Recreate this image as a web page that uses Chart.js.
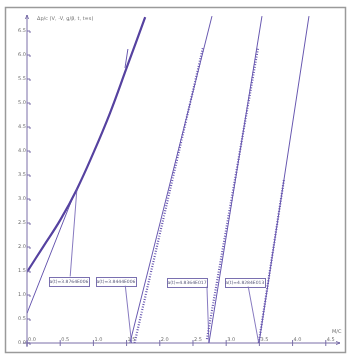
<!DOCTYPE html>
<html>
<head>
<meta charset="utf-8">
<script src="https://cdn.jsdelivr.net/npm/chart.js@4"></script>
<style>
  body { margin: 0; background: #fff; }
  #wrap { width: 351px; height: 355px; position: relative; }
</style>
</head>
<body>
<div id="wrap"><canvas id="chart"></canvas></div>
<script>
// axis ticks
const xTicks = [0, 0.5, 1.0, 1.5, 2.0, 2.5, 3.0, 3.5, 4.0, 4.5];
const yTicks = [0, 0.5, 1.0, 1.5, 2.0, 2.5, 3.0, 3.5, 4.0, 4.5, 5.0, 5.5, 6.0, 6.5];

// first (curved) series and its tangents
const curveX = [0, 0.25, 0.5, 0.75, 1.0, 1.25, 1.5, 1.78];
const curveY = [1.48, 2.02, 2.56, 3.2, 3.96, 4.79, 5.73, 6.79];
const tangentX = [0, 0.68];
const tangentY = [0.62, 3.0];
const tangent2X = [1.476, 1.52];
const tangent2Y = [5.73, 6.125];

// straight series: fitted line + measured points
const line2X = [1.55, 2.786];
const line2Y = [0, 6.81];
const pts2X = [1.62, 2.65];
const pts2Y = [0, 6.15];
const line3X = [2.74, 3.539];
const line3Y = [0, 6.81];
const pts3X = [2.71, 3.48];
const pts3Y = [0.08, 6.15];
const line4X = [3.494, 4.247];
const line4Y = [0, 6.81];
const pts4X = [3.49, 3.87];
const pts4Y = [0, 3.4];

// boxed labels and leader lines
const labelText = ['a(t)=3.8764E006', 'a(t)=3.8444E006', 'a(t)=4.8364E017', 'a(t)=4.8284E013'];
const labelX = [0.632, 1.34, 2.41, 3.28];
const labelY = [1.29, 1.29, 1.27, 1.27];
const leaderFromX = [0.65, 1.48, 2.71, 3.33];
const leaderFromY = [1.38, 1.2, 1.19, 1.19];
const leaderToX = [0.753, 1.575, 2.74, 3.49];
const leaderToY = [3.23, 0, 0, 0];

const titleText = 'Δp/c (V, -V, g/β, t, t=s)';
const xName = 'M/C';

const purple = 'rgb(104, 88, 176)';
const dark = 'rgb(86, 66, 160)';

function zip(xs, ys) { return xs.map((x, i) => ({ x: x, y: ys[i] })); }

function lineSet(xs, ys, width, color, dash, tension) {
  return {
    data: zip(xs, ys), showLine: true, borderColor: color, borderWidth: width,
    borderDash: dash || [], pointRadius: 0, fill: false, tension: tension || 0
  };
}

const axesPlugin = {
  id: 'axes',
  afterDatasetsDraw(chart) {
    const ctx = chart.ctx;
    const xs = chart.scales.x, ys = chart.scales.y;
    const x0 = xs.getPixelForValue(0), y0 = ys.getPixelForValue(0);
    ctx.save();
    // frame
    ctx.strokeStyle = '#9a9a9a';
    ctx.lineWidth = 1.5;
    ctx.strokeRect(5.5, 7.5, 340, 345);
    // axes
    ctx.strokeStyle = '#7a6fa8';
    ctx.lineWidth = 1;
    ctx.beginPath();
    ctx.moveTo(x0, y0 + 4); ctx.lineTo(x0, 15);
    ctx.moveTo(x0 - 4, y0); ctx.lineTo(340, y0);
    // arrow tips
    ctx.moveTo(x0 - 1.5, 19); ctx.lineTo(x0, 15); ctx.lineTo(x0 + 1.5, 19);
    ctx.moveTo(336, y0 - 1.5); ctx.lineTo(340, y0); ctx.lineTo(336, y0 + 1.5);
    ctx.stroke();
    ctx.font = '5px "DejaVu Sans"';
    ctx.fillStyle = '#6f6f6f';
    // ticks
    ctx.beginPath();
    yTicks.forEach(v => {
      const p = ys.getPixelForValue(v);
      ctx.moveTo(x0, p); ctx.lineTo(x0 + 3, p);
      ctx.moveTo(x0 + 3, p); ctx.lineTo(x0 + 3, p + 2);
    });
    xTicks.forEach(v => {
      const p = xs.getPixelForValue(v);
      ctx.moveTo(p, y0 - 3); ctx.lineTo(p, y0 + 3);
    });
    ctx.stroke();
    ctx.textBaseline = 'middle';
    ctx.textAlign = 'right';
    yTicks.forEach(v => ctx.fillText(v.toFixed(1), x0 - 1, ys.getPixelForValue(v)));
    ctx.textAlign = 'left';
    ctx.textBaseline = 'bottom';
    xTicks.forEach(v => ctx.fillText(v.toFixed(1), xs.getPixelForValue(v) + 1, y0 - 1));
    ctx.fillText(xName, 332, y0 - 9);
    ctx.textBaseline = 'middle';
    ctx.fillText(titleText, x0 + 10, 19);
    // leaders
    ctx.strokeStyle = purple;
    ctx.lineWidth = 0.8;
    ctx.beginPath();
    leaderFromX.forEach((v, i) => {
      ctx.moveTo(xs.getPixelForValue(v), ys.getPixelForValue(leaderFromY[i]));
      ctx.lineTo(xs.getPixelForValue(leaderToX[i]), ys.getPixelForValue(leaderToY[i]));
    });
    ctx.stroke();
    // boxed labels
    ctx.textAlign = 'center';
    labelText.forEach((t, i) => {
      const cx = xs.getPixelForValue(labelX[i]), cy = ys.getPixelForValue(labelY[i]);
      const w = 40, h = 9;
      ctx.fillStyle = '#fff';
      ctx.fillRect(cx - w / 2, cy - h / 2, w, h);
      ctx.strokeStyle = '#7a70b0';
      ctx.lineWidth = 1;
      ctx.strokeRect(Math.round(cx - w / 2) + 0.5, Math.round(cy - h / 2) + 0.5, w, h);
      ctx.fillStyle = '#5a5a7a';
      ctx.font = '4.5px "DejaVu Sans"';
      ctx.fillText(t, cx, cy + 0.5);
    });
    ctx.restore();
  }
};

new Chart(document.getElementById('chart'), {
  type: 'scatter',
  data: {
    datasets: [
      lineSet(curveX, curveY, 2.2, dark, null, 0.4),
      lineSet(tangentX, tangentY, 1, purple),
      lineSet(tangent2X, tangent2Y, 1, purple),
      lineSet(line2X, line2Y, 1, purple),
      lineSet(pts2X, pts2Y, 2.2, purple, [1, 1.6]),
      lineSet(line3X, line3Y, 1, purple),
      lineSet(pts3X, pts3Y, 2.2, purple, [1, 1.6]),
      lineSet(line4X, line4Y, 1, purple),
      lineSet(pts4X, pts4Y, 2.2, purple, [1, 1.6])
    ]
  },
  options: {
    responsive: true,
    maintainAspectRatio: false,
    animation: false,
    layout: { padding: { left: 27, right: 14, top: 16, bottom: 12 } },
    plugins: { legend: { display: false }, tooltip: { enabled: false } },
    scales: {
      x: { type: 'linear', min: 0, max: 4.669, display: false },
      y: { type: 'linear', min: 0, max: 6.8125, display: false }
    }
  },
  plugins: [axesPlugin]
});
</script>
</body>
</html>
